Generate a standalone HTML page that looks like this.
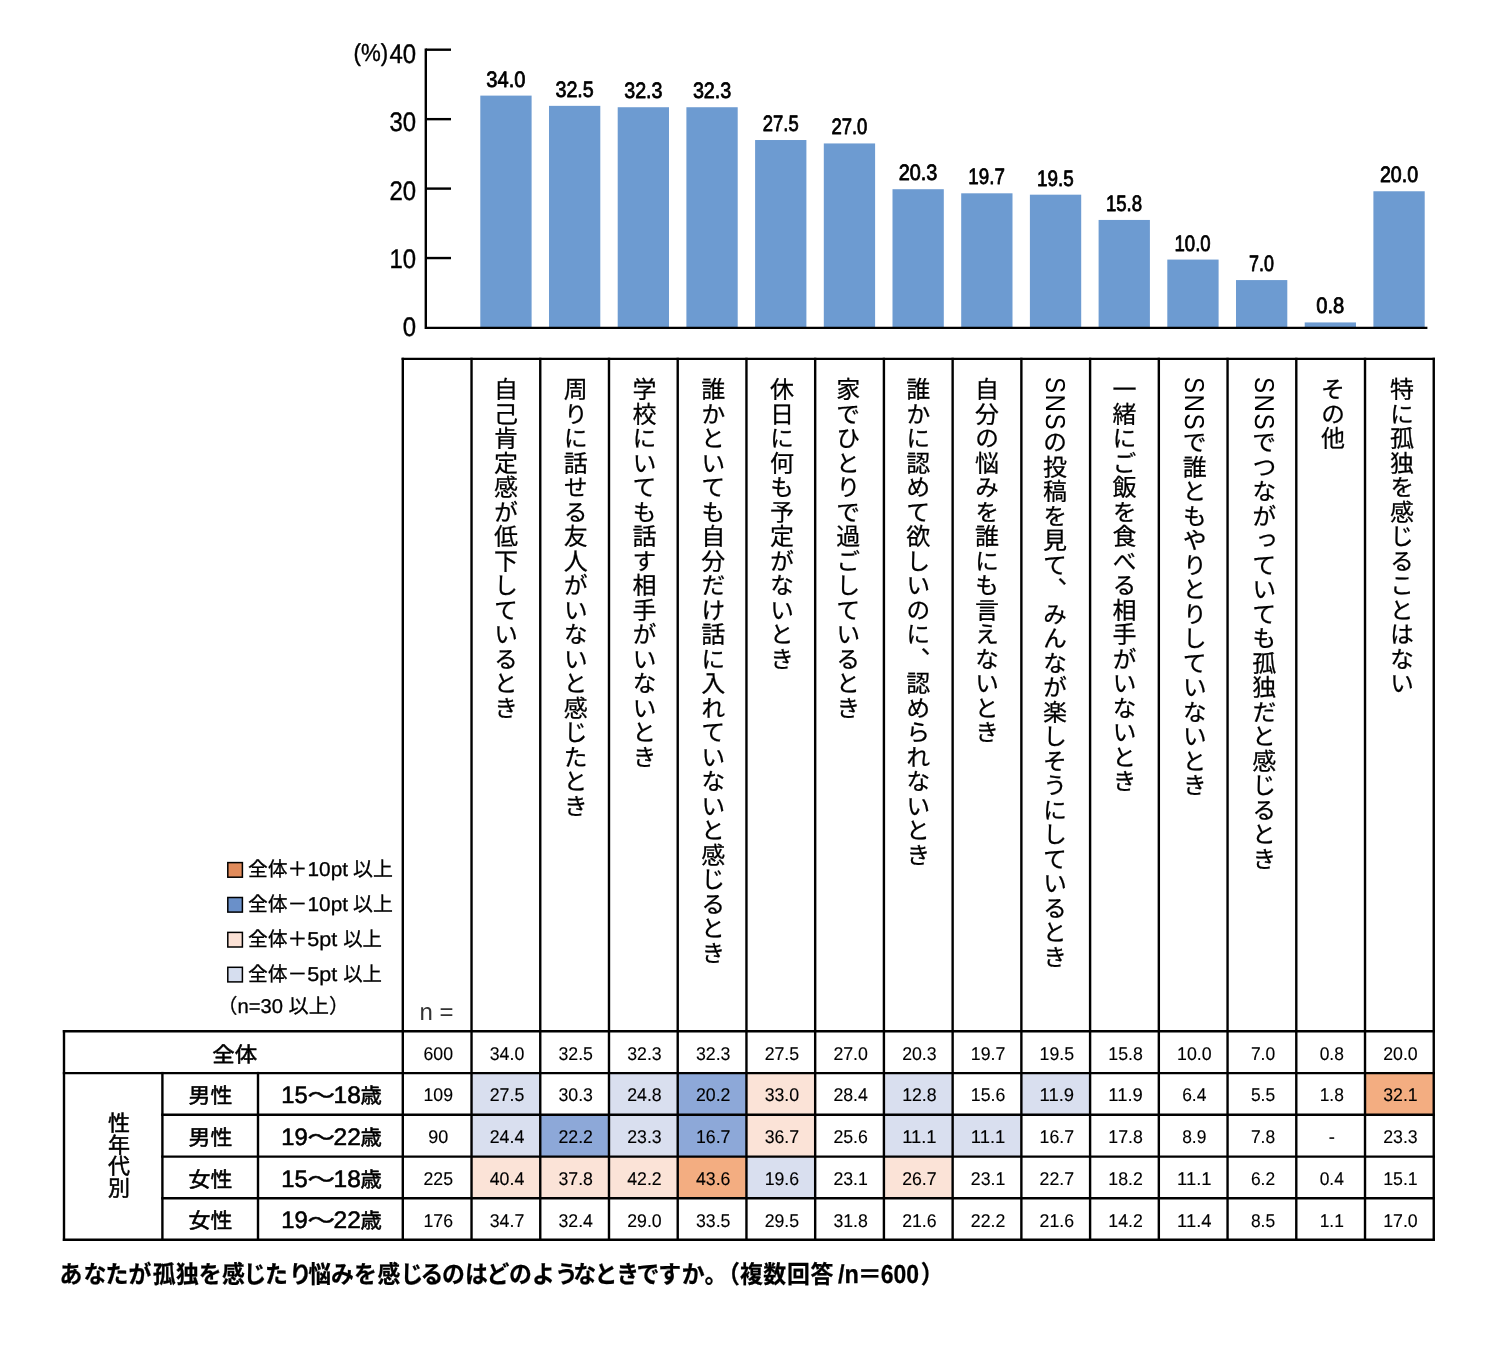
<!DOCTYPE html>
<html lang="ja"><head><meta charset="utf-8"><title>孤独を感じるとき</title>
<style>
html,body{margin:0;padding:0;background:#fff}
#c{position:relative;width:1503px;height:1350px;background:#fff;overflow:hidden;font-family:"Liberation Sans","Noto Sans CJK JP",sans-serif;color:#000}
svg{position:absolute;left:0;top:0}
text{font-family:"Liberation Sans","Noto Sans CJK JP",sans-serif;fill:#000;text-rendering:geometricPrecision;text-spacing-trim:space-all}
.v,.g{text-rendering:geometricPrecision}
.v{position:absolute;writing-mode:vertical-rl;text-orientation:mixed;white-space:nowrap;font-size:24px;letter-spacing:0.51px;line-height:1;top:377.4px;width:24px;transform-origin:50% 0;transform:scale(1,1);font-weight:400;color:#000;-webkit-text-stroke:0.25px #000}
.v i{font-style:normal;display:inline-block;line-height:1;font-size:27.3px;letter-spacing:1.7px;transform-origin:50% 0;margin-top:-0.3px;margin-bottom:-8.0px;-webkit-text-stroke:0px #000}
.g{position:absolute;writing-mode:vertical-rl;white-space:nowrap;line-height:1;font-weight:400;-webkit-text-stroke:0.5px #000}
.bl{font-size:22.4px;text-anchor:middle;stroke:#000;stroke-width:0.8px;stroke-linejoin:round}
.ax{font-size:26.8px;text-anchor:end;stroke:#000;stroke-width:0.4px;stroke-linejoin:round}
.d{font-size:18.4px;text-anchor:middle;fill:#000;stroke:#000;stroke-width:0.12px}
.lg{font-size:20px;stroke:#000;stroke-width:0.3px;stroke-linejoin:round}
.rh{font-size:21.2px;font-weight:400;text-anchor:middle;stroke:#000;stroke-width:0.55px;stroke-linejoin:round}
.dg{font-size:24.0px;stroke-width:0.6px}
.cap{font-size:24.6px;font-weight:bold;stroke:#000;stroke-width:0.25px;stroke-linejoin:round}
.cl{font-size:26.0px}
</style></head><body><div id="c">
<svg width="1503" height="1350" viewBox="0 0 1503 1350">
<rect x="471.53" y="1073.1" width="68.73" height="41.7" fill="#d9dfef"/>
<rect x="608.99" y="1073.1" width="68.73" height="41.7" fill="#d9dfef"/>
<rect x="677.72" y="1073.1" width="68.73" height="41.7" fill="#8da8d8"/>
<rect x="746.45" y="1073.1" width="68.73" height="41.7" fill="#fbe3d7"/>
<rect x="883.91" y="1073.1" width="68.73" height="41.7" fill="#d9dfef"/>
<rect x="1021.37" y="1073.1" width="68.73" height="41.7" fill="#d9dfef"/>
<rect x="1365.02" y="1073.1" width="68.73" height="41.7" fill="#f3ad81"/>
<rect x="471.53" y="1114.8" width="68.73" height="41.8" fill="#d9dfef"/>
<rect x="540.26" y="1114.8" width="68.73" height="41.8" fill="#8da8d8"/>
<rect x="608.99" y="1114.8" width="68.73" height="41.8" fill="#d9dfef"/>
<rect x="677.72" y="1114.8" width="68.73" height="41.8" fill="#8da8d8"/>
<rect x="746.45" y="1114.8" width="68.73" height="41.8" fill="#fbe3d7"/>
<rect x="883.91" y="1114.8" width="68.73" height="41.8" fill="#d9dfef"/>
<rect x="952.64" y="1114.8" width="68.73" height="41.8" fill="#d9dfef"/>
<rect x="471.53" y="1156.6" width="68.73" height="41.7" fill="#fbe3d7"/>
<rect x="540.26" y="1156.6" width="68.73" height="41.7" fill="#fbe3d7"/>
<rect x="608.99" y="1156.6" width="68.73" height="41.7" fill="#fbe3d7"/>
<rect x="677.72" y="1156.6" width="68.73" height="41.7" fill="#f3ad81"/>
<rect x="746.45" y="1156.6" width="68.73" height="41.7" fill="#d9dfef"/>
<rect x="883.91" y="1156.6" width="68.73" height="41.7" fill="#fbe3d7"/>
<rect x="480.3" y="95.61" width="51.3" height="232.29" fill="#6d9bd1"/>
<rect x="549" y="105.86" width="51.3" height="222.04" fill="#6d9bd1"/>
<rect x="617.7" y="107.23" width="51.3" height="220.67" fill="#6d9bd1"/>
<rect x="686.4" y="107.23" width="51.3" height="220.67" fill="#6d9bd1"/>
<rect x="755.1" y="140.02" width="51.3" height="187.88" fill="#6d9bd1"/>
<rect x="823.8" y="143.44" width="51.3" height="184.46" fill="#6d9bd1"/>
<rect x="892.5" y="189.21" width="51.3" height="138.69" fill="#6d9bd1"/>
<rect x="961.2" y="193.31" width="51.3" height="134.59" fill="#6d9bd1"/>
<rect x="1029.9" y="194.68" width="51.3" height="133.22" fill="#6d9bd1"/>
<rect x="1098.6" y="219.95" width="51.3" height="107.95" fill="#6d9bd1"/>
<rect x="1167.3" y="259.58" width="51.3" height="68.32" fill="#6d9bd1"/>
<rect x="1236" y="280.08" width="51.3" height="47.82" fill="#6d9bd1"/>
<rect x="1304.7" y="322.43" width="51.3" height="5.47" fill="#6d9bd1"/>
<rect x="1373.4" y="191.26" width="51.3" height="136.64" fill="#6d9bd1"/>
<g stroke="#000" stroke-width="2.4" fill="none">
<path d="M425.8 48.5 V327.9 H1427.4"/>
<path d="M425.8 49.7 H451"/>
<path d="M425.8 119.15 H451"/>
<path d="M425.8 188.6 H451"/>
<path d="M425.8 258.05 H451"/>
</g>
<text class="ax" x="416" y="62.9" textLength="26.6" lengthAdjust="spacingAndGlyphs">40</text>
<text class="ax" x="416" y="131.2" textLength="26.6" lengthAdjust="spacingAndGlyphs">30</text>
<text class="ax" x="416" y="199.5" textLength="26.6" lengthAdjust="spacingAndGlyphs">20</text>
<text class="ax" x="416" y="267.8" textLength="26.6" lengthAdjust="spacingAndGlyphs">10</text>
<text class="ax" x="416" y="336.1" textLength="13.3" lengthAdjust="spacingAndGlyphs">0</text>
<text class="ax" x="388.2" y="60.7" textLength="34.6" lengthAdjust="spacingAndGlyphs" style="font-size:24.5px">(%)</text>
<text class="bl" x="505.93" y="86.61" textLength="39.18" lengthAdjust="spacingAndGlyphs">34.0</text>
<text class="bl" x="574.62" y="96.86" textLength="38.31" lengthAdjust="spacingAndGlyphs">32.5</text>
<text class="bl" x="643.36" y="98.23" textLength="38.26" lengthAdjust="spacingAndGlyphs">32.3</text>
<text class="bl" x="712.09" y="98.23" textLength="38.43" lengthAdjust="spacingAndGlyphs">32.3</text>
<text class="bl" x="780.71" y="131.02" textLength="35.89" lengthAdjust="spacingAndGlyphs">27.5</text>
<text class="bl" x="849.4" y="134.44" textLength="36.04" lengthAdjust="spacingAndGlyphs">27.0</text>
<text class="bl" x="918.08" y="180.21" textLength="38.65" lengthAdjust="spacingAndGlyphs">20.3</text>
<text class="bl" x="986.61" y="184.31" textLength="36.49" lengthAdjust="spacingAndGlyphs">19.7</text>
<text class="bl" x="1055.34" y="185.68" textLength="36.68" lengthAdjust="spacingAndGlyphs">19.5</text>
<text class="bl" x="1124" y="210.95" textLength="36.24" lengthAdjust="spacingAndGlyphs">15.8</text>
<text class="bl" x="1192.59" y="250.58" textLength="36.2" lengthAdjust="spacingAndGlyphs">10.0</text>
<text class="bl" x="1261.53" y="271.08" textLength="24.91" lengthAdjust="spacingAndGlyphs">7.0</text>
<text class="bl" x="1330.26" y="313.43" textLength="28.07" lengthAdjust="spacingAndGlyphs">0.8</text>
<text class="bl" x="1399.09" y="182.26" textLength="38.28" lengthAdjust="spacingAndGlyphs">20.0</text>
<g stroke="#000" stroke-width="2.4" fill="none" stroke-linecap="square">
<path d="M402.8 358.9 V1239.7"/>
<path d="M471.53 358.9 V1239.7"/>
<path d="M540.26 358.9 V1239.7"/>
<path d="M608.99 358.9 V1239.7"/>
<path d="M677.72 358.9 V1239.7"/>
<path d="M746.45 358.9 V1239.7"/>
<path d="M815.18 358.9 V1239.7"/>
<path d="M883.91 358.9 V1239.7"/>
<path d="M952.64 358.9 V1239.7"/>
<path d="M1021.37 358.9 V1239.7"/>
<path d="M1090.1 358.9 V1239.7"/>
<path d="M1158.83 358.9 V1239.7"/>
<path d="M1227.56 358.9 V1239.7"/>
<path d="M1296.29 358.9 V1239.7"/>
<path d="M1365.02 358.9 V1239.7"/>
<path d="M1433.75 358.9 V1239.7"/>
<path d="M402.8 358.9 H1433.75"/>
<path d="M64 1031.3 V1239.7"/>
<path d="M162.4 1073.1 V1239.7"/>
<path d="M258 1073.1 V1239.7"/>
<path d="M64 1031.3 H1433.75"/>
<path d="M64 1073.1 H1433.75"/>
<path d="M162.4 1114.8 H1433.75"/>
<path d="M162.4 1156.6 H1433.75"/>
<path d="M162.4 1198.3 H1433.75"/>
<path d="M64 1239.7 H1433.75"/>
</g>
<text class="d" x="438.27" y="1059.7" textLength="29.5" lengthAdjust="spacingAndGlyphs">600</text>
<text class="d" x="507" y="1059.7" textLength="34.5" lengthAdjust="spacingAndGlyphs">34.0</text>
<text class="d" x="575.73" y="1059.7" textLength="34.5" lengthAdjust="spacingAndGlyphs">32.5</text>
<text class="d" x="644.46" y="1059.7" textLength="34.5" lengthAdjust="spacingAndGlyphs">32.3</text>
<text class="d" x="713.19" y="1059.7" textLength="34.5" lengthAdjust="spacingAndGlyphs">32.3</text>
<text class="d" x="781.92" y="1059.7" textLength="34.5" lengthAdjust="spacingAndGlyphs">27.5</text>
<text class="d" x="850.65" y="1059.7" textLength="34.5" lengthAdjust="spacingAndGlyphs">27.0</text>
<text class="d" x="919.38" y="1059.7" textLength="34.5" lengthAdjust="spacingAndGlyphs">20.3</text>
<text class="d" x="988.11" y="1059.7" textLength="34.5" lengthAdjust="spacingAndGlyphs">19.7</text>
<text class="d" x="1056.84" y="1059.7" textLength="34.5" lengthAdjust="spacingAndGlyphs">19.5</text>
<text class="d" x="1125.57" y="1059.7" textLength="34.5" lengthAdjust="spacingAndGlyphs">15.8</text>
<text class="d" x="1194.3" y="1059.7" textLength="34.5" lengthAdjust="spacingAndGlyphs">10.0</text>
<text class="d" x="1263.02" y="1059.7" textLength="24.2" lengthAdjust="spacingAndGlyphs">7.0</text>
<text class="d" x="1331.75" y="1059.7" textLength="24.2" lengthAdjust="spacingAndGlyphs">0.8</text>
<text class="d" x="1400.48" y="1059.7" textLength="34.5" lengthAdjust="spacingAndGlyphs">20.0</text>
<text class="d" x="438.27" y="1101.45" textLength="29.5" lengthAdjust="spacingAndGlyphs">109</text>
<text class="d" x="507" y="1101.45" textLength="34.5" lengthAdjust="spacingAndGlyphs">27.5</text>
<text class="d" x="575.73" y="1101.45" textLength="34.5" lengthAdjust="spacingAndGlyphs">30.3</text>
<text class="d" x="644.46" y="1101.45" textLength="34.5" lengthAdjust="spacingAndGlyphs">24.8</text>
<text class="d" x="713.19" y="1101.45" textLength="34.5" lengthAdjust="spacingAndGlyphs">20.2</text>
<text class="d" x="781.92" y="1101.45" textLength="34.5" lengthAdjust="spacingAndGlyphs">33.0</text>
<text class="d" x="850.65" y="1101.45" textLength="34.5" lengthAdjust="spacingAndGlyphs">28.4</text>
<text class="d" x="919.38" y="1101.45" textLength="34.5" lengthAdjust="spacingAndGlyphs">12.8</text>
<text class="d" x="988.11" y="1101.45" textLength="34.5" lengthAdjust="spacingAndGlyphs">15.6</text>
<text class="d" x="1056.84" y="1101.45" textLength="34.5" lengthAdjust="spacingAndGlyphs">11.9</text>
<text class="d" x="1125.57" y="1101.45" textLength="34.5" lengthAdjust="spacingAndGlyphs">11.9</text>
<text class="d" x="1194.3" y="1101.45" textLength="24.2" lengthAdjust="spacingAndGlyphs">6.4</text>
<text class="d" x="1263.02" y="1101.45" textLength="24.2" lengthAdjust="spacingAndGlyphs">5.5</text>
<text class="d" x="1331.75" y="1101.45" textLength="24.2" lengthAdjust="spacingAndGlyphs">1.8</text>
<text class="d" x="1400.48" y="1101.45" textLength="34.5" lengthAdjust="spacingAndGlyphs">32.1</text>
<text class="d" x="438.27" y="1143.2" textLength="20" lengthAdjust="spacingAndGlyphs">90</text>
<text class="d" x="507" y="1143.2" textLength="34.5" lengthAdjust="spacingAndGlyphs">24.4</text>
<text class="d" x="575.73" y="1143.2" textLength="34.5" lengthAdjust="spacingAndGlyphs">22.2</text>
<text class="d" x="644.46" y="1143.2" textLength="34.5" lengthAdjust="spacingAndGlyphs">23.3</text>
<text class="d" x="713.19" y="1143.2" textLength="34.5" lengthAdjust="spacingAndGlyphs">16.7</text>
<text class="d" x="781.92" y="1143.2" textLength="34.5" lengthAdjust="spacingAndGlyphs">36.7</text>
<text class="d" x="850.65" y="1143.2" textLength="34.5" lengthAdjust="spacingAndGlyphs">25.6</text>
<text class="d" x="919.38" y="1143.2" textLength="34.5" lengthAdjust="spacingAndGlyphs">11.1</text>
<text class="d" x="988.11" y="1143.2" textLength="34.5" lengthAdjust="spacingAndGlyphs">11.1</text>
<text class="d" x="1056.84" y="1143.2" textLength="34.5" lengthAdjust="spacingAndGlyphs">16.7</text>
<text class="d" x="1125.57" y="1143.2" textLength="34.5" lengthAdjust="spacingAndGlyphs">17.8</text>
<text class="d" x="1194.3" y="1143.2" textLength="24.2" lengthAdjust="spacingAndGlyphs">8.9</text>
<text class="d" x="1263.02" y="1143.2" textLength="24.2" lengthAdjust="spacingAndGlyphs">7.8</text>
<text class="d" x="1331.75" y="1143.2">-</text>
<text class="d" x="1400.48" y="1143.2" textLength="34.5" lengthAdjust="spacingAndGlyphs">23.3</text>
<text class="d" x="438.27" y="1184.95" textLength="29.5" lengthAdjust="spacingAndGlyphs">225</text>
<text class="d" x="507" y="1184.95" textLength="34.5" lengthAdjust="spacingAndGlyphs">40.4</text>
<text class="d" x="575.73" y="1184.95" textLength="34.5" lengthAdjust="spacingAndGlyphs">37.8</text>
<text class="d" x="644.46" y="1184.95" textLength="34.5" lengthAdjust="spacingAndGlyphs">42.2</text>
<text class="d" x="713.19" y="1184.95" textLength="34.5" lengthAdjust="spacingAndGlyphs">43.6</text>
<text class="d" x="781.92" y="1184.95" textLength="34.5" lengthAdjust="spacingAndGlyphs">19.6</text>
<text class="d" x="850.65" y="1184.95" textLength="34.5" lengthAdjust="spacingAndGlyphs">23.1</text>
<text class="d" x="919.38" y="1184.95" textLength="34.5" lengthAdjust="spacingAndGlyphs">26.7</text>
<text class="d" x="988.11" y="1184.95" textLength="34.5" lengthAdjust="spacingAndGlyphs">23.1</text>
<text class="d" x="1056.84" y="1184.95" textLength="34.5" lengthAdjust="spacingAndGlyphs">22.7</text>
<text class="d" x="1125.57" y="1184.95" textLength="34.5" lengthAdjust="spacingAndGlyphs">18.2</text>
<text class="d" x="1194.3" y="1184.95" textLength="34.5" lengthAdjust="spacingAndGlyphs">11.1</text>
<text class="d" x="1263.02" y="1184.95" textLength="24.2" lengthAdjust="spacingAndGlyphs">6.2</text>
<text class="d" x="1331.75" y="1184.95" textLength="24.2" lengthAdjust="spacingAndGlyphs">0.4</text>
<text class="d" x="1400.48" y="1184.95" textLength="34.5" lengthAdjust="spacingAndGlyphs">15.1</text>
<text class="d" x="438.27" y="1226.5" textLength="29.5" lengthAdjust="spacingAndGlyphs">176</text>
<text class="d" x="507" y="1226.5" textLength="34.5" lengthAdjust="spacingAndGlyphs">34.7</text>
<text class="d" x="575.73" y="1226.5" textLength="34.5" lengthAdjust="spacingAndGlyphs">32.4</text>
<text class="d" x="644.46" y="1226.5" textLength="34.5" lengthAdjust="spacingAndGlyphs">29.0</text>
<text class="d" x="713.19" y="1226.5" textLength="34.5" lengthAdjust="spacingAndGlyphs">33.5</text>
<text class="d" x="781.92" y="1226.5" textLength="34.5" lengthAdjust="spacingAndGlyphs">29.5</text>
<text class="d" x="850.65" y="1226.5" textLength="34.5" lengthAdjust="spacingAndGlyphs">31.8</text>
<text class="d" x="919.38" y="1226.5" textLength="34.5" lengthAdjust="spacingAndGlyphs">21.6</text>
<text class="d" x="988.11" y="1226.5" textLength="34.5" lengthAdjust="spacingAndGlyphs">22.2</text>
<text class="d" x="1056.84" y="1226.5" textLength="34.5" lengthAdjust="spacingAndGlyphs">21.6</text>
<text class="d" x="1125.57" y="1226.5" textLength="34.5" lengthAdjust="spacingAndGlyphs">14.2</text>
<text class="d" x="1194.3" y="1226.5" textLength="34.5" lengthAdjust="spacingAndGlyphs">11.4</text>
<text class="d" x="1263.02" y="1226.5" textLength="24.2" lengthAdjust="spacingAndGlyphs">8.5</text>
<text class="d" x="1331.75" y="1226.5" textLength="24.2" lengthAdjust="spacingAndGlyphs">1.1</text>
<text class="d" x="1400.48" y="1226.5" textLength="34.5" lengthAdjust="spacingAndGlyphs">17.0</text>
<text x="419.5" y="1020" textLength="34" lengthAdjust="spacingAndGlyphs" style="font-size:24px;fill:#333">n =</text>
<rect x="227.8" y="862.6" width="14.6" height="14.6" fill="#e18b5b" stroke="#000" stroke-width="1.5"/>
<text class="lg" y="876"><tspan x="248.05" textLength="59.3" lengthAdjust="spacingAndGlyphs">全体＋</tspan><tspan x="307.5" textLength="40.5" lengthAdjust="spacingAndGlyphs">10pt</tspan><tspan x="353.1" textLength="39.8" lengthAdjust="spacingAndGlyphs">以上</tspan></text>
<rect x="227.8" y="897.5" width="14.6" height="14.6" fill="#6a90c9" stroke="#000" stroke-width="1.5"/>
<text class="lg" y="910.9"><tspan x="248.05" textLength="59.3" lengthAdjust="spacingAndGlyphs">全体－</tspan><tspan x="307.5" textLength="40.5" lengthAdjust="spacingAndGlyphs">10pt</tspan><tspan x="353.1" textLength="39.8" lengthAdjust="spacingAndGlyphs">以上</tspan></text>
<rect x="227.8" y="932.4" width="14.6" height="14.6" fill="#fbe1d5" stroke="#000" stroke-width="1.5"/>
<text class="lg" y="945.8"><tspan x="248.05" textLength="59.3" lengthAdjust="spacingAndGlyphs">全体＋</tspan><tspan x="307.2" textLength="30" lengthAdjust="spacingAndGlyphs">5pt</tspan><tspan x="343.15" textLength="38.8" lengthAdjust="spacingAndGlyphs">以上</tspan></text>
<rect x="227.8" y="967.3" width="14.6" height="14.6" fill="#d6deef" stroke="#000" stroke-width="1.5"/>
<text class="lg" y="980.7"><tspan x="248.05" textLength="59.3" lengthAdjust="spacingAndGlyphs">全体－</tspan><tspan x="307.2" textLength="30" lengthAdjust="spacingAndGlyphs">5pt</tspan><tspan x="343.15" textLength="38.8" lengthAdjust="spacingAndGlyphs">以上</tspan></text>
<text class="lg" x="217.3" y="1013.2" textLength="131.9" lengthAdjust="spacingAndGlyphs">（n=30 以上）</text>
<text class="rh" x="234.7" y="1061.6" textLength="44.9" lengthAdjust="spacingAndGlyphs">全体</text>
<text class="rh" x="210.4" y="1103.05" textLength="43.8" lengthAdjust="spacingAndGlyphs">男性</text>
<text class="rh" style="text-anchor:start" y="1103.35"><tspan class="dg" x="281.2" textLength="26.4" lengthAdjust="spacingAndGlyphs">15</tspan><tspan x="307.4" textLength="27.4" lengthAdjust="spacingAndGlyphs">〜</tspan><tspan class="dg" x="333.6" textLength="27.2" lengthAdjust="spacingAndGlyphs">18</tspan><tspan x="360.6" textLength="21.3" lengthAdjust="spacingAndGlyphs">歳</tspan></text>
<text class="rh" x="210.4" y="1144.8" textLength="43.8" lengthAdjust="spacingAndGlyphs">男性</text>
<text class="rh" style="text-anchor:start" y="1145.1"><tspan class="dg" x="281.2" textLength="26.4" lengthAdjust="spacingAndGlyphs">19</tspan><tspan x="307.4" textLength="27.4" lengthAdjust="spacingAndGlyphs">〜</tspan><tspan class="dg" x="333.6" textLength="27.2" lengthAdjust="spacingAndGlyphs">22</tspan><tspan x="360.6" textLength="21.3" lengthAdjust="spacingAndGlyphs">歳</tspan></text>
<text class="rh" x="210.4" y="1186.55" textLength="43.8" lengthAdjust="spacingAndGlyphs">女性</text>
<text class="rh" style="text-anchor:start" y="1186.85"><tspan class="dg" x="281.2" textLength="26.4" lengthAdjust="spacingAndGlyphs">15</tspan><tspan x="307.4" textLength="27.4" lengthAdjust="spacingAndGlyphs">〜</tspan><tspan class="dg" x="333.6" textLength="27.2" lengthAdjust="spacingAndGlyphs">18</tspan><tspan x="360.6" textLength="21.3" lengthAdjust="spacingAndGlyphs">歳</tspan></text>
<text class="rh" x="210.4" y="1228.1" textLength="43.8" lengthAdjust="spacingAndGlyphs">女性</text>
<text class="rh" style="text-anchor:start" y="1228.4"><tspan class="dg" x="281.2" textLength="26.4" lengthAdjust="spacingAndGlyphs">19</tspan><tspan x="307.4" textLength="27.4" lengthAdjust="spacingAndGlyphs">〜</tspan><tspan class="dg" x="333.6" textLength="27.2" lengthAdjust="spacingAndGlyphs">22</tspan><tspan x="360.6" textLength="21.3" lengthAdjust="spacingAndGlyphs">歳</tspan></text>
<text class="cap" transform="translate(60,1283.3) scale(0.93,1)" y="0"><tspan x="-0.43 25.38 48.92 73.66 99.78 124.73 149.14 174.19 197.42 220.32 246.13 266.88 291.51 316.24 341.29 366.24 387.74 410.65 435.38 458.6 482.9 507.63 532.26 551.94 574.84 598.17 620 643.23 668.6 693.01 706.56 731.29 756.24 781.72 806.88">あなたが孤独を感じたり悩みを感じるのはどのようなときですか。（複数回答</tspan><tspan class="cl" x="829.57" textLength="29.57" lengthAdjust="spacingAndGlyphs"> /n</tspan><tspan x="857.85" textLength="25.81" lengthAdjust="spacingAndGlyphs">＝</tspan><tspan class="cl" x="882.47" textLength="41.18" lengthAdjust="spacingAndGlyphs">600</tspan><tspan x="925.59">）</tspan></text>
</svg>
<div class="v" style="left:490.6px">自己肯定感が低下しているとき</div>
<div class="v" style="left:560.33px">周りに話せる友人がいないと感じたとき</div>
<div class="v" style="left:629.01px">学校にいても話す相手がいないとき</div>
<div class="v" style="left:697.69px">誰かといても自分だけ話に入れていないと感じるとき</div>
<div class="v" style="left:766.42px">休日に何も予定がないとき</div>
<div class="v" style="left:832.75px">家でひとりで過ごしているとき</div>
<div class="v" style="left:902.68px">誰かに認めて欲しいのに、認められないとき</div>
<div class="v" style="left:971.61px">自分の悩みを誰にも言えないとき</div>
<div class="v" style="left:1041.44px"><i style="transform:translateX(4.0px) scaleY(0.885)">SNS</i>の投稿を見て、みんなが楽しそうにしているとき</div>
<div class="v" style="left:1109.07px">一緒にご飯を食べる相手がいないとき</div>
<div class="v" style="left:1181.2px"><i style="transform:translateX(3.3px) scaleY(0.885)">SNS</i>で誰ともやりとりしていないとき</div>
<div class="v" style="left:1250.73px"><i style="transform:translateX(3.3px) scaleY(0.885)">SNS</i>でつながっていても孤独だと感じるとき</div>
<div class="v" style="left:1317.56px">その他</div>
<div class="v" style="left:1386.49px">特に孤独を感じることはない</div>
<div class="g" style="left:106px;top:1112px;font-size:22px;letter-spacing:-0.6px;width:22px">性年代別</div>
</div></body></html>
